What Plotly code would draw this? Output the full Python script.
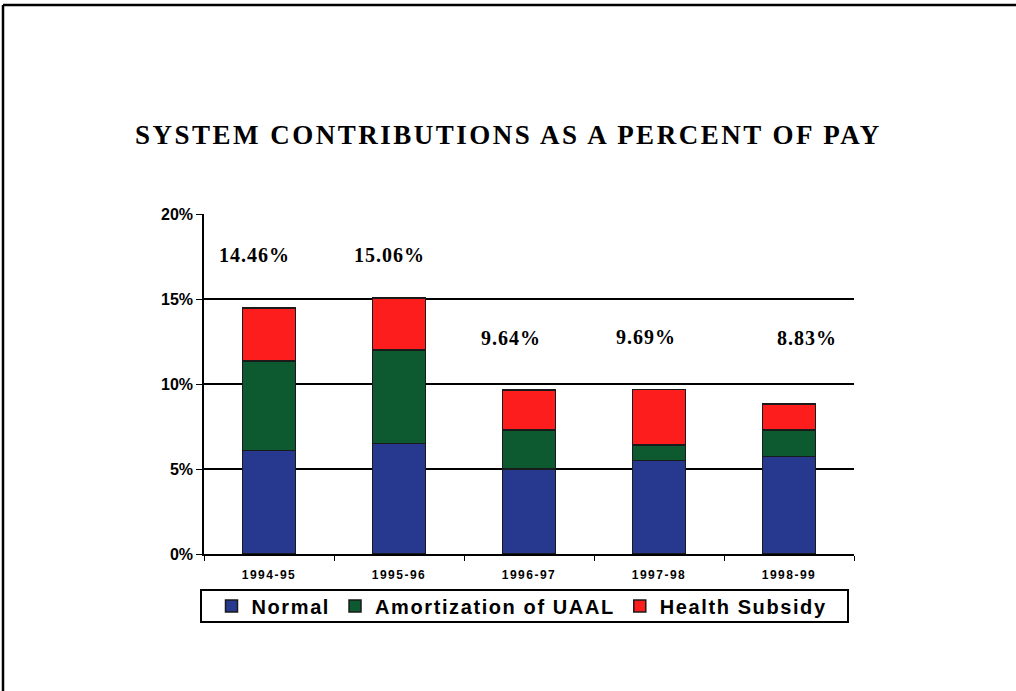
import plotly.graph_objects as go

# Fiscal years and contribution components (% of pay)
years = ["1994-95", "1995-96", "1996-97", "1997-98", "1998-99"]
normal = [6.10, 6.50, 5.00, 5.50, 5.75]
amortization = [5.25, 5.50, 2.30, 0.90, 1.55]
health = [3.11, 3.06, 2.34, 3.29, 1.53]
totals = [14.46, 15.06, 9.64, 9.69, 8.83]

# Where each total label sits (data y, pixel shift in x)
label_y = [17.6, 17.6, 12.7, 12.75, 12.7]
label_dx = [-15, -10, -18, -13, 18]

W, H = 1016, 691
L, R, T, B = 204, 162, 214, 137
PW, PH = W - L - R, H - T - B


def px_x(x):
    return (x - L) / PW


def px_y(y):
    return (H - B - y) / PH


def spaced(text, px):
    return f'<span style="letter-spacing:{px}px">{text}</span>'


series = [
    ("Normal", normal, "#26398f"),
    ("Amortization of UAAL", amortization, "#0d5a31"),
    ("Health Subsidy", health, "#fd1d1d"),
]

fig = go.Figure()
for name, vals, color in series:
    fig.add_trace(go.Bar(
        x=years, y=vals, name=spaced(name, 1.6),
        marker=dict(color=color, line=dict(color="#1a1a1a", width=1.5)),
        width=0.41,
    ))

serif = "Liberation Serif, Times New Roman, serif"
sans = "Liberation Sans, Arial, sans-serif"

annotations = [
    dict(x=yr, y=ly, xref="x", yref="y", text=spaced(f"{t:.2f}%", 1),
         showarrow=False, xshift=dx,
         font=dict(family=serif, size=20, color="black", weight="bold"))
    for yr, t, ly, dx in zip(years, totals, label_y, label_dx)
]
annotations.append(dict(
    x=px_x(508), y=px_y(135), xref="paper", yref="paper",
    text=spaced("SYSTEM CONTRIBUTIONS AS A PERCENT OF PAY", 2.5),
    showarrow=False, xanchor="center", yanchor="middle",
    font=dict(family=serif, size=27, color="black", weight="bold"),
))

shapes = [
    # page frame: top edge runs past the right side, left edge to the bottom
    dict(type="line", xref="paper", yref="paper", x0=px_x(3), x1=px_x(1040),
         y0=px_y(5), y1=px_y(5), line=dict(color="black", width=2.5)),
    dict(type="line", xref="paper", yref="paper", x0=px_x(3), x1=px_x(3),
         y0=px_y(5), y1=px_y(700), line=dict(color="black", width=2.5)),
    # legend box
    dict(type="rect", xref="paper", yref="paper", x0=px_x(201), x1=px_x(848),
         y0=px_y(590), y1=px_y(622), line=dict(color="black", width=2),
         fillcolor="rgba(0,0,0,0)"),
]

fig.update_layout(
    width=W, height=H,
    margin=dict(l=L, r=R, t=T, b=B),
    paper_bgcolor="white", plot_bgcolor="white",
    barmode="stack",
    showlegend=True,
    legend=dict(orientation="h", x=px_x(522), y=px_y(606), xanchor="center",
                yanchor="middle", traceorder="normal", itemwidth=30,
                font=dict(family=sans, size=20, color="black", weight="bold"),
                bgcolor="rgba(0,0,0,0)", borderwidth=0),
    annotations=annotations,
    shapes=shapes,
    xaxis=dict(
        tickmode="array", tickvals=years,
        ticktext=[spaced(y, 1.5) for y in years],
        showline=True, linecolor="black", linewidth=2,
        ticks="outside", tickson="boundaries", ticklen=5, tickcolor="black",
        tickfont=dict(family=sans, size=12, color="black", weight="bold"),
        ticklabelstandoff=9,
        showgrid=False,
    ),
    yaxis=dict(
        range=[0, 20], dtick=5, ticksuffix="%",
        showline=True, linecolor="black", linewidth=1.5,
        showgrid=True, gridcolor="black", gridwidth=2,
        zeroline=False,
        ticks="outside", ticklen=6, tickcolor="black",
        tickfont=dict(family=sans, size=16, color="black", weight="bold"),
        ticklabelstandoff=0,
    ),
)

fig.write_html("out.html")
